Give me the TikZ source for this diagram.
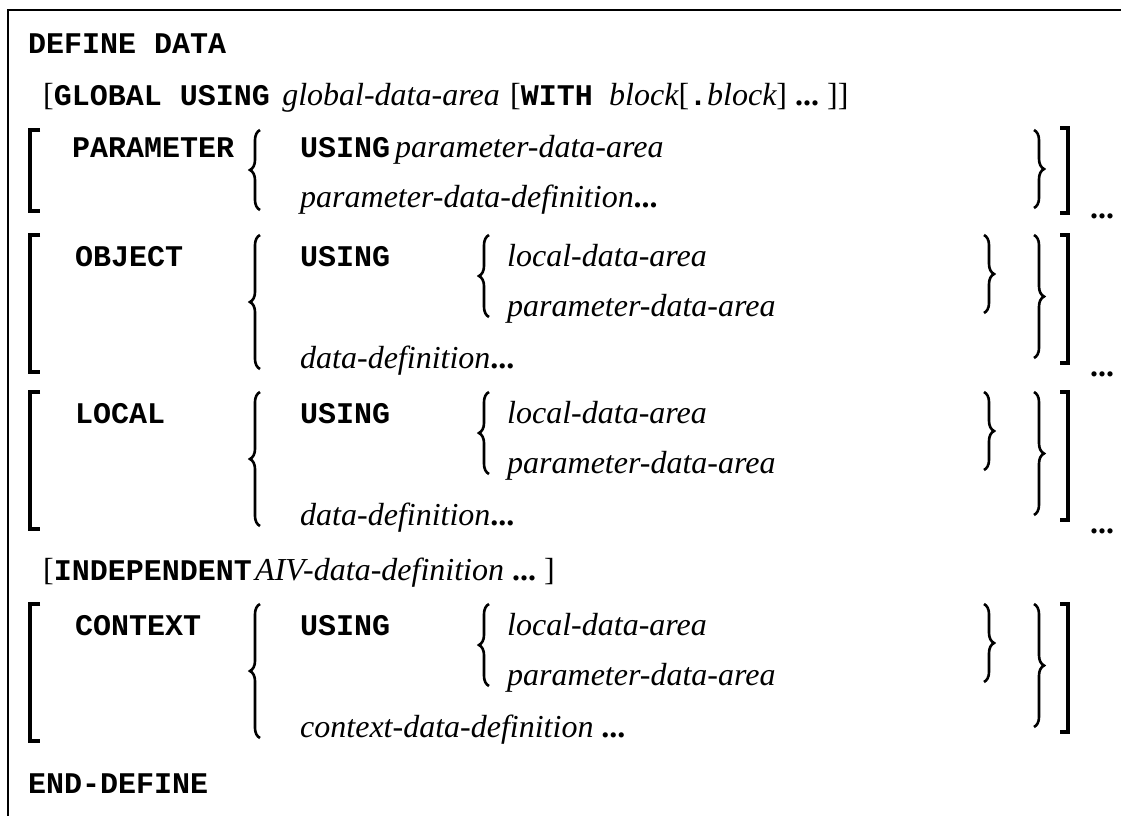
\documentclass[tikz,border=0pt]{standalone}
\usepackage{fontspec}
\setmainfont{Liberation Serif}
\setmonofont{Liberation Mono}
\usepackage{tikz}
\usetikzlibrary{decorations.pathreplacing}

\newcommand{\kwd}[1]{{\fontsize{30}{36}\selectfont\ttfamily\bfseries #1}}
\newcommand{\argt}[1]{{\itshape #1}}
\newcommand{\moredots}{{\upshape\bfseries ...}}

\tikzset{
  txt/.style={anchor=base west, inner sep=0pt, font=\fontsize{32}{38}\selectfont},
  sqbr/.style={line width=3.5pt},
  brc/.style={line width=2.6pt, decorate, decoration={brace, amplitude=10pt}},
  boxline/.style={line width=2.5pt}
}

\begin{document}
\begin{tikzpicture}[x=1pt, y=-1pt]
\useasboundingbox (0,0) rectangle (1121,815);
\draw[boxline] (8,820) -- (8,10) -- (1125,10);

\node[txt] (defkw) at (28,53) {\kwd{DEFINE DATA}};
\node[txt] (glob) at (43,105) {[\kwd{GLOBAL USING}};
\node[txt] (garea) at ([xshift=12pt]glob.base east) {\argt{global-data-area}};
\node[txt] (gwith) at ([xshift=10pt]garea.base east) {[\kwd{WITH}};
\node[txt] (gblk) at ([xshift=16pt]gwith.base east) {\argt{block}[\kwd{.}\argt{block}] \moredots\ ]]};

% PARAMETER
\node[txt] (parkw) at (72,157) {\kwd{PARAMETER}};
\node[txt] (paruse) at (300,157) {\kwd{USING}};
\node[txt] (parpda) at (395,157) {\argt{parameter-data-area}};
\node[txt] (pardef) at (300,207) {\argt{parameter-data-definition}\moredots};
\node[txt] (parrep) at (1090,218) {\moredots};
\draw[sqbr] (40,130) -- (30,130) -- (30,211) -- (40,211);
\draw[brc] (260,210) -- (260,130);
\draw[brc] (1034,130) -- (1034,208);
\draw[sqbr] (1060,128) -- (1068,128) -- (1068,213) -- (1060,213);

% OBJECT, LOCAL, CONTEXT
\foreach \nm/\dy/\kw in {obj/0/OBJECT, loc/157/LOCAL, ctx/369/CONTEXT} {
  \node[txt] (\nm kw) at (75,266+\dy) {\kwd{\kw}};
  \node[txt] (\nm use) at (300,266+\dy) {\kwd{USING}};
  \node[txt] (\nm lda) at (507,266+\dy) {\argt{local-data-area}};
  \node[txt] (\nm pda) at (507,316+\dy) {\argt{parameter-data-area}};
  \draw[sqbr] (40,235+\dy) -- (30,235+\dy) -- (30,372+\dy) -- (40,372+\dy);
  \draw[brc] (260,369+\dy) -- (260,235+\dy);
  \draw[brc] (489,317+\dy) -- (489,235+\dy);
  \draw[brc] (984,235+\dy) -- (984,313+\dy);
  \draw[brc] (1034,235+\dy) -- (1034,358+\dy);
  \draw[sqbr] (1060,235+\dy) -- (1068,235+\dy) -- (1068,363+\dy) -- (1060,363+\dy);
}
\node[txt] (objdef) at (300,368) {\argt{data-definition}\moredots};
\node[txt] (objrep) at (1090,376) {\moredots};
\node[txt] (locdef) at (300,525) {\argt{data-definition}\moredots};
\node[txt] (locrep) at (1090,533) {\moredots};
\node[txt] (ctxdef) at (300,737) {\argt{context-data-definition} \moredots};

% INDEPENDENT
\node[txt] (indkw) at (43,580) {[\kwd{INDEPENDENT}};
\node[txt] (indarg) at (255,580) {\argt{AIV-data-definition} \moredots\ ]};

\node[txt] (endkw) at (28,793) {\kwd{END-DEFINE}};
\end{tikzpicture}
\end{document}
